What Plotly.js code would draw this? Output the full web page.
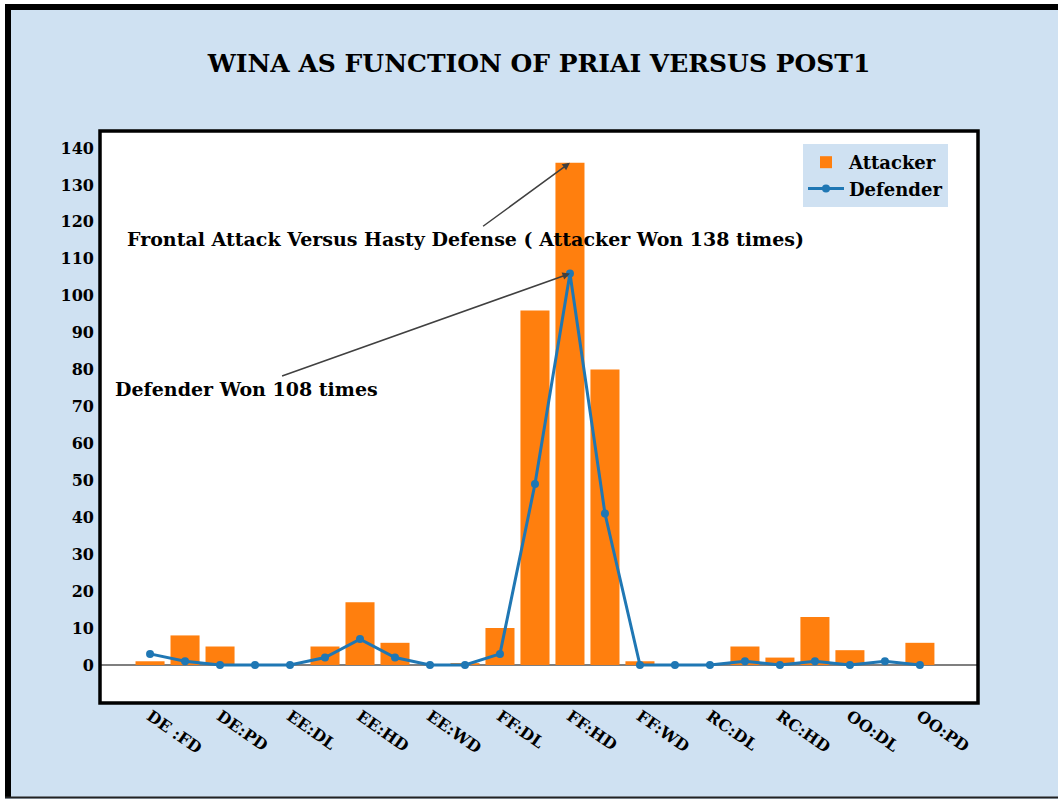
<!DOCTYPE html>
<html>
<head>
<meta charset="utf-8">
<script src="https://cdn.plot.ly/plotly-3.0.1.min.js"></script>
<style>
  html, body { margin: 0; padding: 0; background: #ffffff; }
  #chart { width: 1058px; height: 799px; }
</style>
</head>
<body>
<div id="chart"></div>
<script>
// ---- data ----
const categories = ["DE :FD","DE:HD","DE:PD","DE:WD","EE:DL","EE:FD","EE:HD","EE:PD","EE:WD",
  "FF:AD","FF:DL","FF:FD","FF:HD","FF:PD","FF:WD","RC:AD","RC:DL","RC:FD","RC:HD","RC:PD",
  "OO:DL","OO:HD","OO:PD"];
const attacker = [1, 8, 5, 0, 0, 5, 17, 6, 0, 0.5, 10, 96, 136, 80, 1, 0, 0, 5, 2, 13, 4, 0, 6];
const defender = [3, 1, 0, 0, 0, 2, 7, 2, 0, 0, 3, 49, 106, 41, 0, 0, 0, 1, 0, 1, 0, 1, 0];
const yTicks = [0,10,20,30,40,50,60,70,80,90,100,110,120,130,140];
const shownLabels = categories.filter((c, i) => i % 2 === 0);
const titleText = "WINA AS FUNCTION OF PRIAI VERSUS POST1";
const note1 = "Frontal Attack Versus Hasty Defense ( Attacker Won 138 times)";
const note2 = "Defender Won 108 times";

// ---- layout helpers ----
const W = 1058, H = 799;
const M = {l: 100, r: 80, t: 131, b: 96};
const pw = W - M.l - M.r, ph = H - M.t - M.b;
const px = x => (x - M.l) / pw;
const py = y => (H - M.b - y) / ph;

const FONT = "DejaVu Serif";
const bg = "#cfe1f2";

const traces = [
  {
    type: "bar", name: "Attacker", x: categories, y: attacker,
    marker: {color: "#ff7f0e"}, width: 0.83
  },
  {
    type: "scatter", mode: "lines+markers", name: "Defender", x: categories, y: defender,
    line: {color: "#1f77b4", width: 3}, marker: {color: "#1f77b4", size: 8}
  }
];

const layout = {
  width: W, height: H,
  margin: M,
  paper_bgcolor: bg, plot_bgcolor: "#ffffff",
  font: {family: FONT, color: "#000000", size: 16, weight: "bold"},
  title: {
    text: titleText, x: 0.5, xref: "paper", xanchor: "center",
    y: 1 - 63 / H, yref: "container", yanchor: "middle",
    font: {family: FONT, size: 25, weight: "bold", color: "#000"}
  },
  showlegend: true,
  legend: {
    x: px(803), y: py(144), xanchor: "left", yanchor: "top",
    bgcolor: bg, font: {family: FONT, size: 18, weight: "bold"},
    itemwidth: 36, tracegroupgap: 2
  },
  xaxis: {
    type: "category", range: [-1.43, 23.66],
    tickmode: "array", tickvals: shownLabels, ticktext: shownLabels,
    tickangle: 35, ticks: "", showgrid: false, showline: false, zeroline: false,
    tickfont: {family: FONT, size: 16, weight: "bold"}
  },
  yaxis: {
    range: [-10.3, 144.6], tickmode: "array", tickvals: yTicks,
    ticks: "", showgrid: false, showline: false,
    zeroline: true, zerolinecolor: "#7f7f7f", zerolinewidth: 1.5,
    ticklabelstandoff: 5,
    tickfont: {family: FONT, size: 16, weight: "bold"}
  },
  annotations: [
    {
      x: 12, y: 136, xref: "x", yref: "y", text: note1,
      showarrow: true, arrowhead: 2, arrowsize: 1, arrowwidth: 1.5, arrowcolor: "#404040",
      ax: -104, ay: 76, font: {family: FONT, size: 19, weight: "bold", color: "#000"}
    },
    {
      x: 12, y: 106, xref: "x", yref: "y", text: note2,
      showarrow: true, arrowhead: 2, arrowsize: 1, arrowwidth: 1.5, arrowcolor: "#404040",
      ax: -323, ay: 115, font: {family: FONT, size: 19, weight: "bold", color: "#000"}
    }
  ],
  shapes: [
    // plot frame
    {type: "rect", xref: "paper", yref: "paper", x0: 0, x1: 1, y0: 0, y1: 1,
     line: {color: "#000", width: 3.5}, layer: "above"},
    // white outside strips
    {type: "rect", xref: "paper", yref: "paper", x0: px(0), x1: px(5), y0: py(0), y1: py(H),
     fillcolor: "#fff", line: {width: 0}},
    {type: "rect", xref: "paper", yref: "paper", x0: px(0), x1: px(W), y0: py(0), y1: py(4),
     fillcolor: "#fff", line: {width: 0}},
    // outer border
    {type: "line", xref: "paper", yref: "paper", x0: px(8), x1: px(8), y0: py(4), y1: py(798),
     line: {color: "#000", width: 6}},
    {type: "line", xref: "paper", yref: "paper", x0: px(5), x1: px(W), y0: py(7), y1: py(7),
     line: {color: "#000", width: 6}},
    {type: "line", xref: "paper", yref: "paper", x0: px(5), x1: px(W), y0: py(797.5), y1: py(797.5),
     line: {color: "#222", width: 2}}
  ]
};

Plotly.newPlot("chart", traces, layout, {displayModeBar: false, staticPlot: true});
</script>
</body>
</html>
